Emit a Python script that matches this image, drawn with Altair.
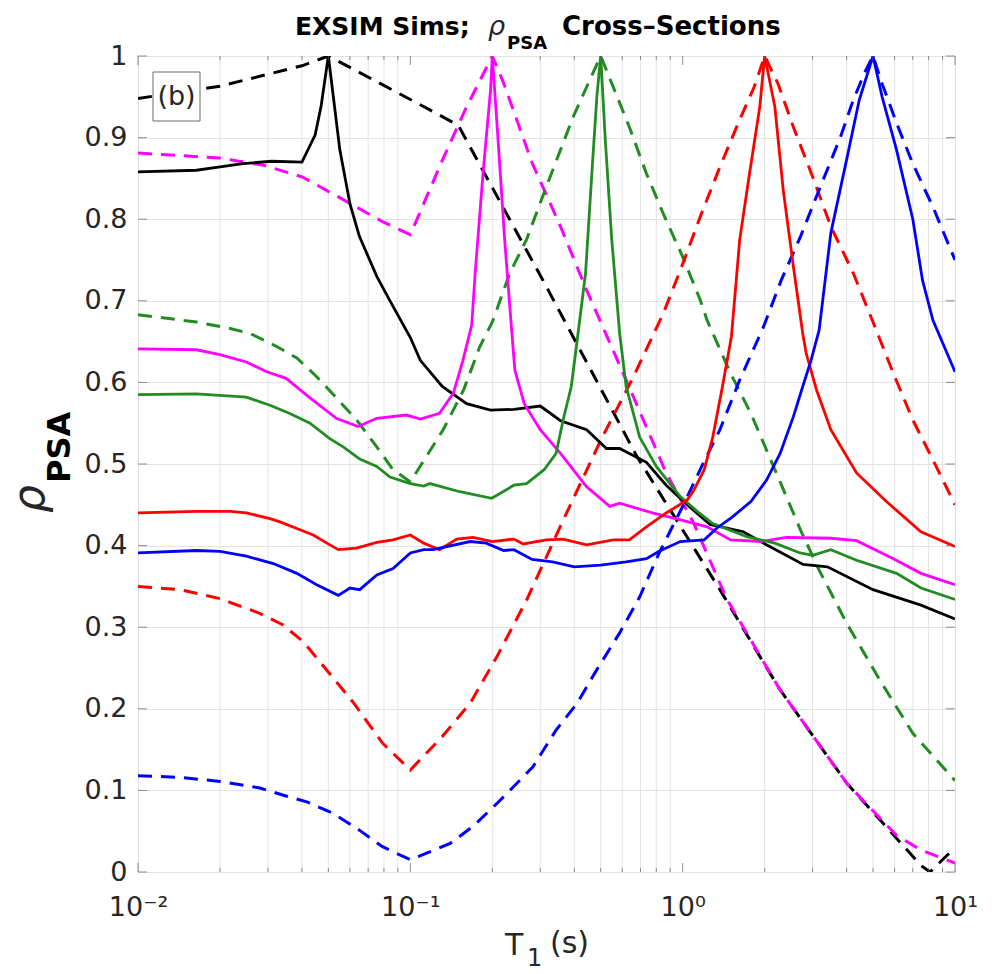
import altair as alt
import pandas as pd

W, H = 817, 816

# ---------------- data: period T (s) and correlation rho ----------------
k_solid_T = [0.01, 0.0164, 0.02, 0.0243, 0.031, 0.04, 0.0447, 0.047, 0.05, 0.0551, 0.06, 0.065, 0.0753, 0.0842,
             0.1, 0.1088, 0.131, 0.161, 0.197, 0.24, 0.3, 0.356, 0.444, 0.525, 0.587, 0.736, 0.87, 1.04, 1.26,
             1.67, 2.03, 2.77, 3.4, 5.0, 7.5, 10.0]
k_solid_r = [0.858, 0.860, 0.864, 0.868, 0.871, 0.870, 0.903, 0.938, 1.0, 0.885, 0.819, 0.779, 0.730, 0.700,
             0.655, 0.627, 0.595, 0.574, 0.566, 0.567, 0.571, 0.553, 0.542, 0.519, 0.519, 0.502, 0.474, 0.450, 0.426,
             0.417, 0.401, 0.377, 0.374, 0.346, 0.327, 0.310]

k_dash_T = [0.01, 0.02, 0.04, 0.05, 0.118, 0.15, 0.307, 0.68, 1.37, 2.26, 4.0, 5.3, 7.5, 8.1, 10.0]
k_dash_r = [0.948, 0.963, 0.988, 1.0, 0.934, 0.915, 0.725, 0.509, 0.346, 0.225, 0.109, 0.064, 0.008, 0.0, 0.03]

m_solid_T = [0.01, 0.0164, 0.02, 0.025, 0.0297, 0.035, 0.0428, 0.0535, 0.0643, 0.0753, 0.0967, 0.1088, 0.128,
             0.144, 0.156, 0.168, 0.173, 0.185, 0.197, 0.2, 0.21, 0.222, 0.235, 0.242, 0.262, 0.3, 0.356, 0.444,
             0.54, 0.587, 0.775, 1.0, 1.23, 1.5, 1.94, 2.4, 3.5, 4.35, 5.94, 7.5, 10.0]
m_solid_r = [0.641, 0.640, 0.634, 0.625, 0.613, 0.605, 0.581, 0.556, 0.546, 0.556, 0.560, 0.555, 0.562,
             0.587, 0.627, 0.670, 0.734, 0.857, 0.958, 1.0, 0.897, 0.775, 0.668, 0.615, 0.574, 0.542, 0.513, 0.472,
             0.448, 0.452, 0.440, 0.431, 0.423, 0.407, 0.405, 0.410, 0.409, 0.406, 0.384, 0.366, 0.352]

m_dash_T = [0.01, 0.02, 0.029, 0.04, 0.0567, 0.079, 0.1, 0.131, 0.16, 0.2, 0.22, 0.28, 0.356, 0.444, 0.62,
            0.87, 1.1, 1.45, 2.26, 4.0, 5.3, 6.1, 7.5, 10.0]
m_dash_r = [0.881, 0.875, 0.866, 0.852, 0.824, 0.797, 0.781, 0.872, 0.936, 1.0, 0.967, 0.869, 0.791, 0.713, 0.603,
            0.489, 0.427, 0.335, 0.225, 0.109, 0.066, 0.045, 0.027, 0.011]

g_solid_T = [0.01, 0.0164, 0.025, 0.0305, 0.0361, 0.0428, 0.0506, 0.0567, 0.0652, 0.0753, 0.0842, 0.1, 0.112,
             0.118, 0.152, 0.199, 0.24, 0.267, 0.31, 0.343, 0.364, 0.39, 0.41, 0.44, 0.464, 0.484, 0.5, 0.52,
             0.549, 0.587, 0.62, 0.695, 0.8, 0.98, 1.15, 1.29, 1.72, 2.18, 2.7, 3.0, 3.5, 4.35, 6.1, 7.5, 10.0]
g_solid_r = [0.585, 0.586, 0.582, 0.572, 0.562, 0.550, 0.531, 0.521, 0.506, 0.497, 0.484, 0.476, 0.473,
             0.476, 0.466, 0.458, 0.474, 0.476, 0.493, 0.513, 0.554, 0.595, 0.652, 0.734, 0.856, 0.950, 1.0, 0.897,
             0.775, 0.660, 0.595, 0.533, 0.497, 0.460, 0.440, 0.427, 0.411, 0.403, 0.391, 0.388, 0.395, 0.382,
             0.366, 0.348, 0.334]

g_dash_T = [0.01, 0.0164, 0.0218, 0.0258, 0.0323, 0.0383, 0.0453, 0.0535, 0.0635, 0.0753, 0.0864, 0.1, 0.132,
            0.157, 0.18, 0.2, 0.232, 0.267, 0.316, 0.356, 0.397, 0.444, 0.5, 0.556, 0.637, 0.736, 0.848, 1.0,
            1.16, 1.23, 1.5, 1.78, 2.24, 2.71, 3.17, 4.0, 5.3, 7.0, 10.0]
g_dash_r = [0.683, 0.674, 0.666, 0.660, 0.644, 0.630, 0.607, 0.581, 0.554, 0.521, 0.493, 0.478, 0.542,
            0.591, 0.644, 0.674, 0.734, 0.775, 0.840, 0.885, 0.926, 0.962, 1.0, 0.962, 0.913, 0.856, 0.807, 0.754,
            0.701, 0.676, 0.611, 0.562, 0.484, 0.419, 0.370, 0.305, 0.235, 0.170, 0.112]

r_solid_T = [0.01, 0.0164, 0.0218, 0.025, 0.0305, 0.0332, 0.0383, 0.044, 0.0494, 0.0544, 0.0635, 0.0753,
             0.0864, 0.1, 0.112, 0.128, 0.148, 0.17, 0.2, 0.24, 0.26, 0.316, 0.364, 0.444, 0.556, 0.637, 0.736,
             0.87, 1.04, 1.1, 1.2, 1.29, 1.4, 1.51, 1.62, 1.76, 1.92, 2.0, 2.18, 2.34, 2.55, 2.76, 2.84, 3.1,
             3.5, 4.35, 5.6, 7.5, 10.0]
r_solid_r = [0.440, 0.442, 0.442, 0.440, 0.433, 0.429, 0.421, 0.413, 0.403, 0.395, 0.397, 0.404,
             0.407, 0.413, 0.403, 0.395, 0.408, 0.410, 0.405, 0.408, 0.402, 0.407, 0.408, 0.401, 0.407, 0.407, 0.423,
             0.440, 0.456, 0.468, 0.493, 0.533, 0.595, 0.656, 0.775, 0.856, 0.938, 1.0, 0.938, 0.836, 0.742, 0.660,
             0.636, 0.591, 0.542, 0.489, 0.454, 0.417, 0.399]

r_dash_T = [0.01, 0.0143, 0.02, 0.028, 0.034, 0.0405, 0.0506, 0.062, 0.079, 0.1, 0.131, 0.166, 0.208, 0.267,
            0.364, 0.5, 0.66, 0.85, 1.0, 1.16, 1.37, 1.62, 1.83, 2.0, 2.24, 2.55, 3.0, 3.5, 4.23, 5.0, 5.94,
            7.0, 8.3, 10.0]
r_dash_r = [0.350, 0.346, 0.335, 0.317, 0.303, 0.282, 0.243, 0.207, 0.158, 0.125, 0.166, 0.207, 0.264, 0.333,
            0.431, 0.529, 0.607, 0.685, 0.745, 0.803, 0.864, 0.922, 0.962, 1.0, 0.966, 0.913, 0.852, 0.791, 0.734,
            0.674, 0.611, 0.554, 0.505, 0.450]

b_solid_T = [0.01, 0.0164, 0.02, 0.025, 0.0314, 0.0383, 0.0453, 0.0544, 0.06, 0.0652, 0.0753, 0.0864, 0.1,
             0.112, 0.121, 0.166, 0.19, 0.22, 0.24, 0.28, 0.333, 0.4, 0.5, 0.62, 0.736, 0.82, 0.98, 1.2, 1.33,
             1.52, 1.78, 2.03, 2.28, 2.55, 2.76, 2.96, 3.17, 3.5, 4.0, 4.45, 5.0, 5.4, 6.1, 7.0, 7.6, 8.3, 10.0]
b_solid_r = [0.391, 0.394, 0.393, 0.387, 0.378, 0.366, 0.352, 0.339, 0.348, 0.346, 0.364, 0.372, 0.391,
             0.395, 0.395, 0.405, 0.403, 0.394, 0.395, 0.383, 0.380, 0.374, 0.376, 0.380, 0.384, 0.393, 0.405,
             0.407, 0.421, 0.435, 0.454, 0.480, 0.513, 0.558, 0.595, 0.627, 0.664, 0.783, 0.873, 0.946, 1.0,
             0.950, 0.885, 0.800, 0.725, 0.676, 0.613]

b_dash_T = [0.01, 0.0143, 0.02, 0.028, 0.0342, 0.0417, 0.052, 0.0652, 0.079, 0.1, 0.14, 0.17, 0.208, 0.232,
            0.282, 0.343, 0.41, 0.484, 0.587, 0.695, 0.82, 1.0, 1.19, 1.37, 1.62, 1.98, 2.3, 2.71, 3.17, 3.8,
            4.23, 4.65, 5.0, 5.4, 6.1, 7.0, 8.3, 10.0]
b_dash_r = [0.118, 0.116, 0.111, 0.103, 0.094, 0.086, 0.072, 0.051, 0.031, 0.015, 0.035, 0.056, 0.084, 0.100,
            0.129, 0.174, 0.207, 0.248, 0.293, 0.337, 0.391, 0.448, 0.501, 0.542, 0.603, 0.668, 0.725, 0.779,
            0.836, 0.901, 0.946, 0.979, 1.0, 0.966, 0.918, 0.868, 0.815, 0.750]

series_names = ["k_dash", "m_dash", "g_dash", "r_dash", "b_dash",
                "k_solid", "m_solid", "g_solid", "r_solid", "b_solid"]
series_colors = ["#000000", "#ff00ff", "#228b22", "#ff0000", "#0000ff",
                 "#000000", "#ff00ff", "#228b22", "#ff0000", "#0000ff"]

# axis ticks / grid positions and labels
x_major = [0.01, 0.1, 1.0, 10.0]
x_major_labels = ["10⁻²", "10⁻¹", "10⁰", "10¹"]
x_minor = [0.02, 0.03, 0.04, 0.05, 0.06, 0.07, 0.08, 0.09,
           0.2, 0.3, 0.4, 0.5, 0.6, 0.7, 0.8, 0.9,
           2.0, 3.0, 4.0, 5.0, 6.0, 7.0, 8.0, 9.0]
y_major = [0.0, 0.1, 0.2, 0.3, 0.4, 0.5, 0.6, 0.7, 0.8, 0.9, 1.0]

# ---------------- build tables ----------------
pairs = {
    "k_dash": (k_dash_T, k_dash_r), "m_dash": (m_dash_T, m_dash_r), "g_dash": (g_dash_T, g_dash_r),
    "r_dash": (r_dash_T, r_dash_r), "b_dash": (b_dash_T, b_dash_r),
    "k_solid": (k_solid_T, k_solid_r), "m_solid": (m_solid_T, m_solid_r), "g_solid": (g_solid_T, g_solid_r),
    "r_solid": (r_solid_T, r_solid_r), "b_solid": (b_solid_T, b_solid_r),
}
rows = []
for name in series_names:
    ts, rs = pairs[name]
    for t, r in zip(ts, rs):
        rows.append({"T": t, "rho": r, "s": name, "dashed": name.endswith("dash")})
df = pd.DataFrame(rows)

AX = "#5f5f5f"
GRID = "#e3e3e3"
TXT = "#262626"
FONT = "DejaVu Sans"

xs = alt.Scale(type="log", domain=[0.01, 10])
ys = alt.Scale(domain=[0, 1])
cs = alt.Scale(domain=series_names, range=series_colors)

label_expr = " : ".join(
    [f"abs(datum.value - {v}) < {v * 0.01} ? '{l}'" for v, l in zip(x_major, x_major_labels)]
) + " : ''"

x_axis = alt.Axis(values=x_major, labelExpr=label_expr, ticks=False, tickSize=0, domain=False, grid=False,
                  labelFontSize=27, labelFont=FONT, labelColor=TXT, labelPadding=22, labelFlush=False,
                  title=None)
y_axis = alt.Axis(values=y_major, format="~g", ticks=False, tickSize=0, domain=False, grid=True,
                  gridColor=GRID, gridWidth=1, labelFontSize=27, labelFont=FONT, labelColor=TXT,
                  labelPadding=11, labelFlush=False, title=None)

X = alt.X("T:Q", scale=xs, axis=x_axis)
Y = alt.Y("rho:Q", scale=ys, axis=y_axis)

one = pd.DataFrame({"a": [0]})

vgrid = alt.Chart(pd.DataFrame({"T": x_minor})).mark_rule(color=GRID, strokeWidth=1).encode(x=X)

dashed = alt.Chart(df[df.dashed]).mark_line(strokeWidth=3, strokeDash=[14, 9], clip=True).encode(
    x=X, y=Y, color=alt.Color("s:N", scale=cs, legend=None))
solid = alt.Chart(df[~df.dashed]).mark_line(strokeWidth=2.8, clip=True).encode(
    x=X, y=Y, color=alt.Color("s:N", scale=cs, legend=None))

xt_major_df = pd.DataFrame({"T": x_major})
xt_minor_df = pd.DataFrame({"T": x_minor})
yt_df = pd.DataFrame({"rho": y_major})

ticks = [
    alt.Chart(xt_major_df).mark_tick(orient="vertical", size=9, thickness=1, color=AX).encode(
        x=X, y=alt.value(H - 4.5)),
    alt.Chart(xt_major_df).mark_tick(orient="vertical", size=9, thickness=1, color=AX).encode(
        x=X, y=alt.value(4.5)),
    alt.Chart(xt_minor_df).mark_tick(orient="vertical", size=4, thickness=1, color=AX).encode(
        x=X, y=alt.value(H - 2)),
    alt.Chart(xt_minor_df).mark_tick(orient="vertical", size=4, thickness=1, color=AX).encode(
        x=X, y=alt.value(2)),
    alt.Chart(yt_df).mark_tick(orient="horizontal", size=9, thickness=1, color=AX).encode(
        y=Y, x=alt.value(4.5)),
    alt.Chart(yt_df).mark_tick(orient="horizontal", size=9, thickness=1, color=AX).encode(
        y=Y, x=alt.value(W - 4.5)),
]

box = alt.Chart(one).mark_rect(fill="white", stroke="#6a6a6a", strokeWidth=1).encode(
    x=alt.value(15), x2=alt.value(62), y=alt.value(16), y2=alt.value(65))
box_txt = alt.Chart(one).mark_text(fontSize=27, font=FONT, color=TXT, align="center", baseline="middle").encode(
    x=alt.value(38.5), y=alt.value(41), text=alt.value("(b)"))


def txt(s, x, y, size, weight="normal", style="normal", angle=0, align="left"):
    return alt.Chart(one).mark_text(fontSize=size, font=FONT, fontWeight=weight, fontStyle=style,
                                    color="black" if weight == "bold" else TXT, align=align,
                                    baseline="alphabetic", angle=angle).encode(
        x=alt.value(x), y=alt.value(y), text=alt.value(s))


texts = [
    txt("EXSIM Sims;", 157, -21, 25, weight="bold"),
    txt("ρ", 350, -21, 27, style="italic"),
    txt("PSA", 369, -7, 18, weight="bold"),
    txt("Cross–Sections", 424, -21, 26, weight="bold"),
    txt("ρ", -94, 457, 44, style="italic", angle=270),
    txt("PSA", -68, 427, 32, weight="bold", angle=270),
    txt("T", 367, 899, 30),
    txt("1", 389, 910, 24),
    txt("(s)", 412, 897, 30),
]

chart = alt.layer(vgrid, dashed, solid, *ticks, box, box_txt, *texts).properties(
    width=W, height=H,
    autosize=alt.AutoSizeParams(type="none"),
    padding={"left": 138, "top": 56, "right": 40, "bottom": 102},
).configure_view(stroke=AX, strokeWidth=1.2).configure(font=FONT)

chart.save("out.html", embed_options={"renderer": "svg", "actions": False})
